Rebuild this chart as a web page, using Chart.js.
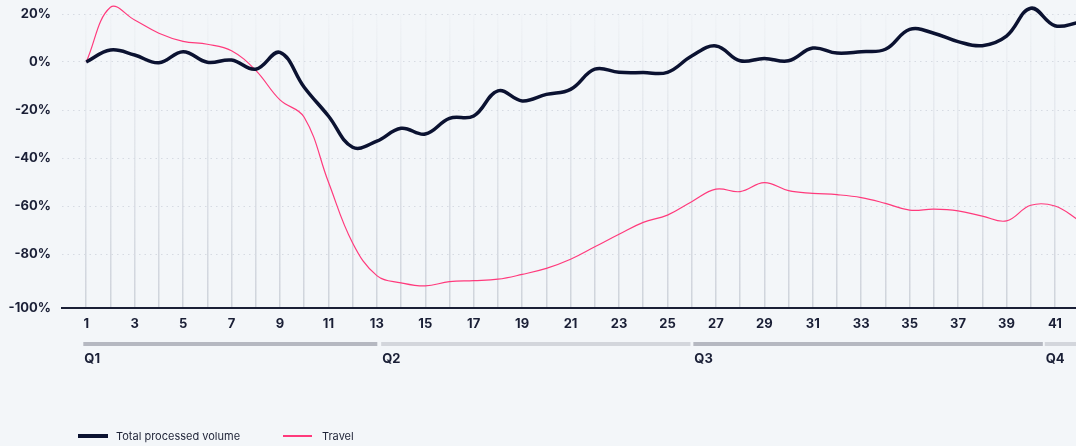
<!DOCTYPE html>
<html>
<head>
<meta charset="utf-8">
<script src="https://cdn.jsdelivr.net/npm/chart.js@4.4.1/dist/chart.umd.min.js"></script>
<style>
html,body{margin:0;padding:0;background:#f3f6f9;}
#wrap{position:relative;width:1076px;height:446px;overflow:hidden;}
#c{display:block;}
.lg{position:absolute;top:428px;height:16px;display:flex;align-items:center;font:11px Inter, "Noto Sans", sans-serif;color:#1d2236;white-space:nowrap;}
.lg .sw{display:inline-block;width:30px;margin-right:8px;}
</style>
</head>
<body>
<div id="wrap">
<canvas id="c" width="1076" height="446"></canvas>
<div class="lg" id="lg0" style="left:78px"></div>
<div class="lg" id="lg1" style="left:283px"></div>
</div>
<script>
// ---- data ----
const weeks = [1,2,3,4,5,6,7,8,9,10,11,12,13,14,15,16,17,18,19,20,21,22,23,24,25,26,27,28,29,30,31,32,33,34,35,36,37,38,39,40,41,42];
const totalVolume = [0,5,2.9,-0.3,4.3,-0.1,0.8,-3,4,-10.5,-22.5,-35.5,-33,-27.6,-30,-23.5,-22.5,-12,-16.2,-13.5,-11.4,-3,-4.3,-4.4,-4.3,2.5,6.7,0.5,1.5,0.5,5.8,3.7,4.3,5.3,13.6,12,8.5,6.8,10.8,22.4,15.1,16.5];
const travel = [0,22.8,17.5,12,8.6,7.4,4.7,-3.5,-15.8,-23,-50,-75.4,-89,-92,-93.3,-91.5,-91.1,-90.5,-88.5,-86,-82.2,-77,-71.8,-66.8,-63.8,-58.2,-53,-54,-50.3,-53.6,-54.7,-55.3,-56.5,-58.9,-61.7,-61.3,-62,-64.2,-66.2,-59.7,-60,-66];
const seriesNames = ['Total processed volume','Travel'];
const yTickValues = [20,0,-20,-40,-60,-80];
const yBottomLabel = -100;
const xTickWeeks = weeks.slice(0,41);
const quarterLabels = ['Q1','Q2','Q3','Q4'];
const quarterStart = [0.88,13.18,26.07,40.58];
const quarterEnd = [13.02,25.95,40.5,42];

// ---- styles ----
const colors = ['#0b1231','#ff3a7c'];
const widths = [3.5,1.2];
const Y_MIN = -102.5, Y_MAX = 20, X_MIN = 0, X_MAX = 41.87;
const TEXT = '#1a1f36';

let gridGrad = null;
function gridColor(ctx){
  const chart = ctx.chart;
  const area = chart.chartArea;
  if (!area) return 'rgba(0,0,0,0)';
  if (ctx.tick && ctx.tick.value <= 0) return 'rgba(0,0,0,0)';
  if (!gridGrad) {
    gridGrad = chart.ctx.createLinearGradient(0, area.bottom, 0, area.top);
    gridGrad.addColorStop(0, 'rgba(200,205,214,0.85)');
    gridGrad.addColorStop(1, 'rgba(200,205,214,0.05)');
  }
  return gridGrad;
}

const quarterPlugin = {
  id: 'quarters',
  afterDraw(chart){
    const xs = chart.scales.x, ctx = chart.ctx;
    const barY = xs.top + 34;
    ctx.save();
    quarterLabels.forEach((q,i)=>{
      const x0 = xs.getPixelForValue(quarterStart[i]);
      const x1 = Math.min(xs.getPixelForValue(quarterEnd[i]), chart.width);
      ctx.fillStyle = i % 2 === 0 ? '#b5b8c1' : '#d3d6dc';
      ctx.fillRect(x0, barY, x1 - x0, 4);
      ctx.fillStyle = TEXT;
      ctx.font = '700 13px Inter, "Noto Sans", sans-serif';
      ctx.textBaseline = 'middle';
      ctx.textAlign = 'left';
      ctx.fillText(q, x0 + 1, barY + 17);
    });
    ctx.restore();
  }
};

const datasets = [totalVolume, travel].map((arr,i)=>({
  label: seriesNames[i],
  data: weeks.map((w,j)=>({x:w, y:arr[j]})),
  borderColor: colors[i],
  borderWidth: widths[i],
  pointRadius: 0,
  pointHoverRadius: 0,
  tension: 0.4,
  fill: false,
  clip: false,
  order: i === 0 ? 0 : 1
}));

new Chart(document.getElementById('c'), {
  type: 'line',
  data: { datasets },
  plugins: [quarterPlugin],
  options: {
    responsive: false,
    devicePixelRatio: 1,
    animation: false,
    layout: { padding: { top: 14, left: 0, right: 0, bottom: 0 } },
    plugins: { legend: { display: false }, tooltip: { enabled: false } },
    scales: {
      x: {
        type: 'linear',
        min: X_MIN, max: X_MAX,
        afterBuildTicks: s => { s.ticks = xTickWeeks.map(v => ({value: v})); },
        afterFit: s => { s.height = 138; s.paddingLeft = 0; s.paddingRight = 0; },
        ticks: {
          autoSkip: false, maxRotation: 0, padding: 8,
          color: TEXT,
          font: { family: 'Inter, "Noto Sans", sans-serif', size: 13, weight: '700' },
          callback: v => (v % 2 === 1 ? String(v) : '')
        },
        grid: { drawTicks: false, color: gridColor, lineWidth: 1.5 },
        border: { display: true, color: '#1a1f36', width: 2 }
      },
      y: {
        min: Y_MIN, max: Y_MAX,
        afterBuildTicks: s => { s.ticks = [{value: Y_MIN}].concat(yTickValues.slice().reverse().map(v => ({value: v}))); },
        afterFit: s => { s.width = 62; s.paddingTop = 0; s.paddingBottom = 0; },
        ticks: {
          padding: 11, color: TEXT,
          font: { family: 'Inter, "Noto Sans", sans-serif', size: 13, weight: '700' },
          callback: v => (v === Y_MIN ? yBottomLabel + '%' : v + '%')
        },
        grid: {
          drawTicks: false, lineWidth: 1,
          color: ctx => (ctx.tick && ctx.tick.value === Y_MIN ? 'rgba(0,0,0,0)' : '#d6dbe2')
        },
        border: { display: false, dash: [1.5, 4] }
      }
    }
  }
});

// HTML legend
seriesNames.forEach((n,i)=>{
  const el = document.getElementById('lg'+i);
  const sw = document.createElement('span');
  sw.className = 'sw';
  sw.style.height = widths[i] + 'px';
  sw.style.background = colors[i];
  sw.style.width = (i === 0 ? 30 : 29) + 'px';
  sw.style.marginRight = (i === 0 ? 8 : 10) + 'px';
  el.appendChild(sw);
  el.appendChild(document.createTextNode(n));
});
</script>
</body>
</html>
